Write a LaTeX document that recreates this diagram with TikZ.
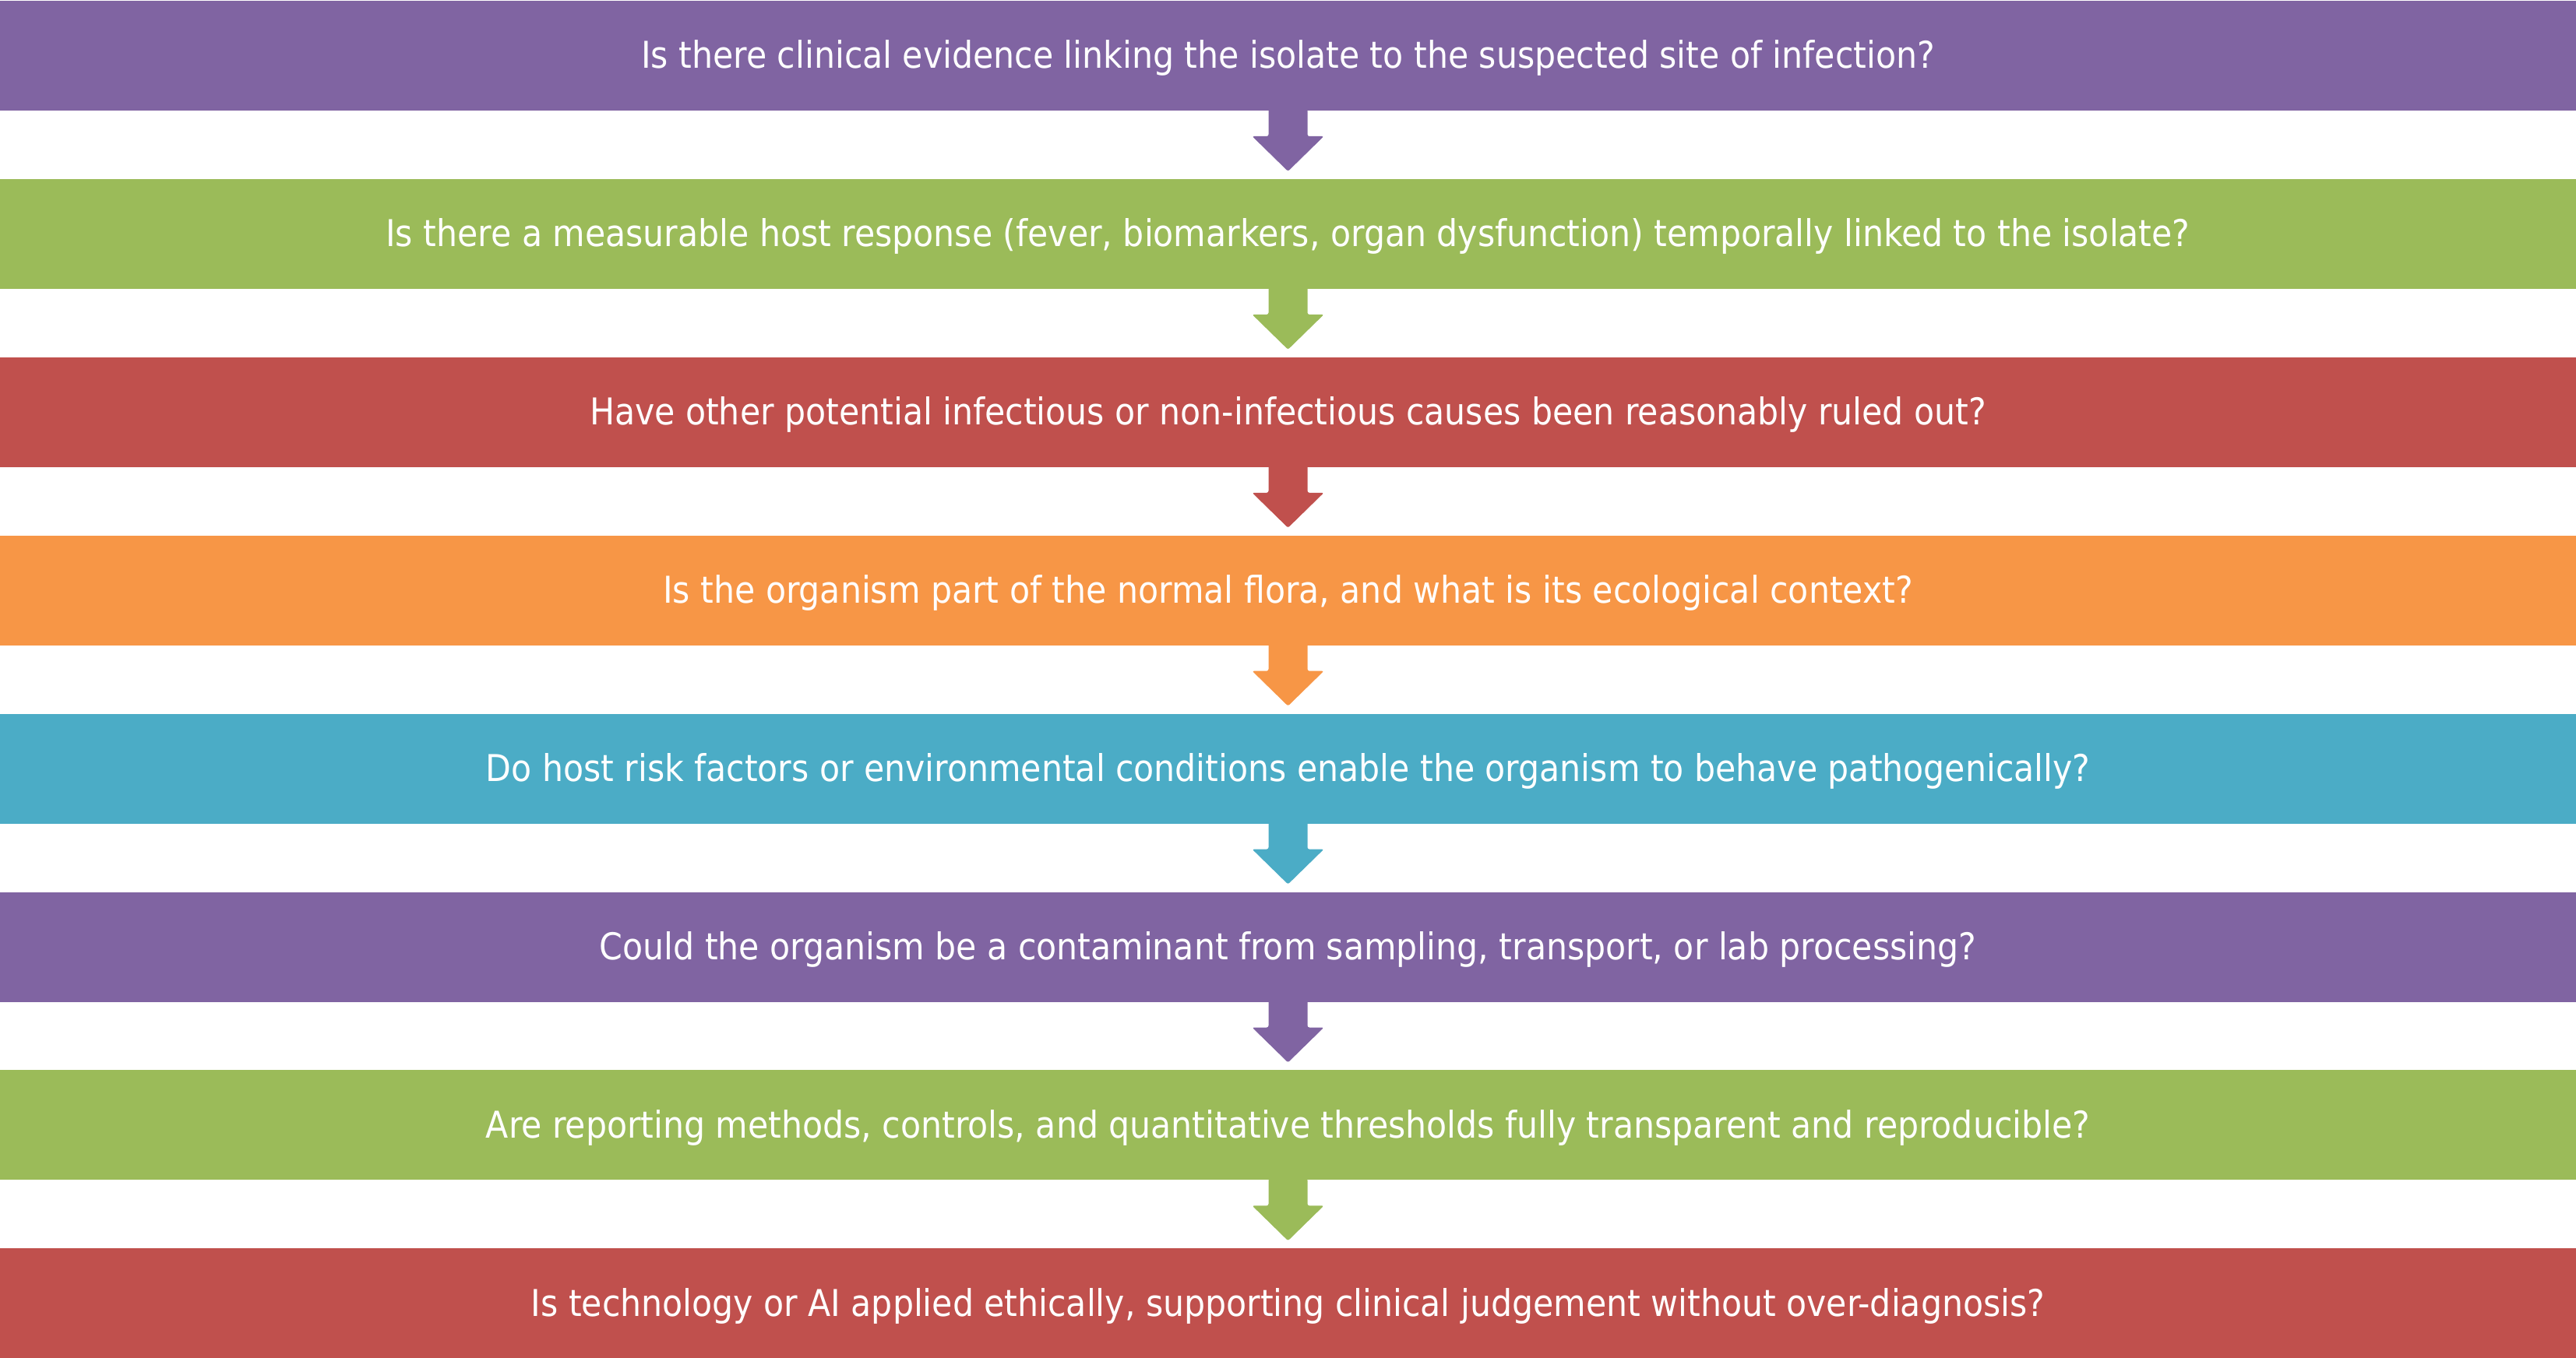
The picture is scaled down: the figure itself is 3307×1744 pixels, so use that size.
\documentclass[tikz,border=0pt]{standalone}
\usepackage{fontspec}
\setmainfont{DejaVu Sans Condensed}
\usetikzlibrary{calc}
\definecolor{cpurple}{HTML}{8064A2}
\definecolor{cgreen}{HTML}{9BBB59}
\definecolor{cred}{HTML}{C0504D}
\definecolor{corange}{HTML}{F79646}
\definecolor{cteal}{HTML}{4BACC6}
\tikzset{
  bar/.style={fill=#1, draw=none, minimum width=826.75pt, minimum height=35.25pt,
    inner sep=0pt, outer sep=0pt, text=white, text height=8.3pt, text depth=0.1pt,
    font=\fontsize{11.85pt}{14pt}\selectfont},
  downarrow/.style={fill=#1, draw=none, rounded corners=0.6pt}
}
\newcommand{\flowarrow}[2]{%
  \fill[downarrow=#2] ($(#1.south)+(-25,-2)$) -- ++(0,35) -- ++(-21,0) -- ++(46,45) -- ++(46,-45) -- ++(-21,0) -- ++(0,-35) -- cycle;}
\begin{document}
\begin{tikzpicture}[x=0.25pt,y=-0.25pt]
\useasboundingbox (0,0) rectangle (3307,1744);
\node[bar=cpurple] (b1) at (1653.5, 71.5) {Is there clinical evidence linking the isolate to the suspected site of infection?};
\node[bar=cgreen] (b2) at (1653.5, 300.4) {Is there a measurable host response (fever, biomarkers, organ dysfunction) temporally linked to the isolate?};
\node[bar=cred] (b3) at (1653.5, 529.3) {Have other potential infectious or non-infectious causes been reasonably ruled out?};
\node[bar=corange] (b4) at (1653.5, 758.2) {Is the organism part of the normal flora, and what is its ecological context?};
\node[bar=cteal] (b5) at (1653.5, 987.1) {Do host risk factors or environmental conditions enable the organism to behave pathogenically?};
\node[bar=cpurple] (b6) at (1653.5, 1216.0) {Could the organism be a contaminant from sampling, transport, or lab processing?};
\node[bar=cgreen] (b7) at (1653.5, 1444.9) {Are reporting methods, controls, and quantitative thresholds fully transparent and reproducible?};
\node[bar=cred] (b8) at (1653.5, 1673.8) {Is technology or AI applied ethically, supporting clinical judgement without over-diagnosis?};
\flowarrow{b1}{cpurple}
\flowarrow{b2}{cgreen}
\flowarrow{b3}{cred}
\flowarrow{b4}{corange}
\flowarrow{b5}{cteal}
\flowarrow{b6}{cpurple}
\flowarrow{b7}{cgreen}
\end{tikzpicture}
\end{document}
